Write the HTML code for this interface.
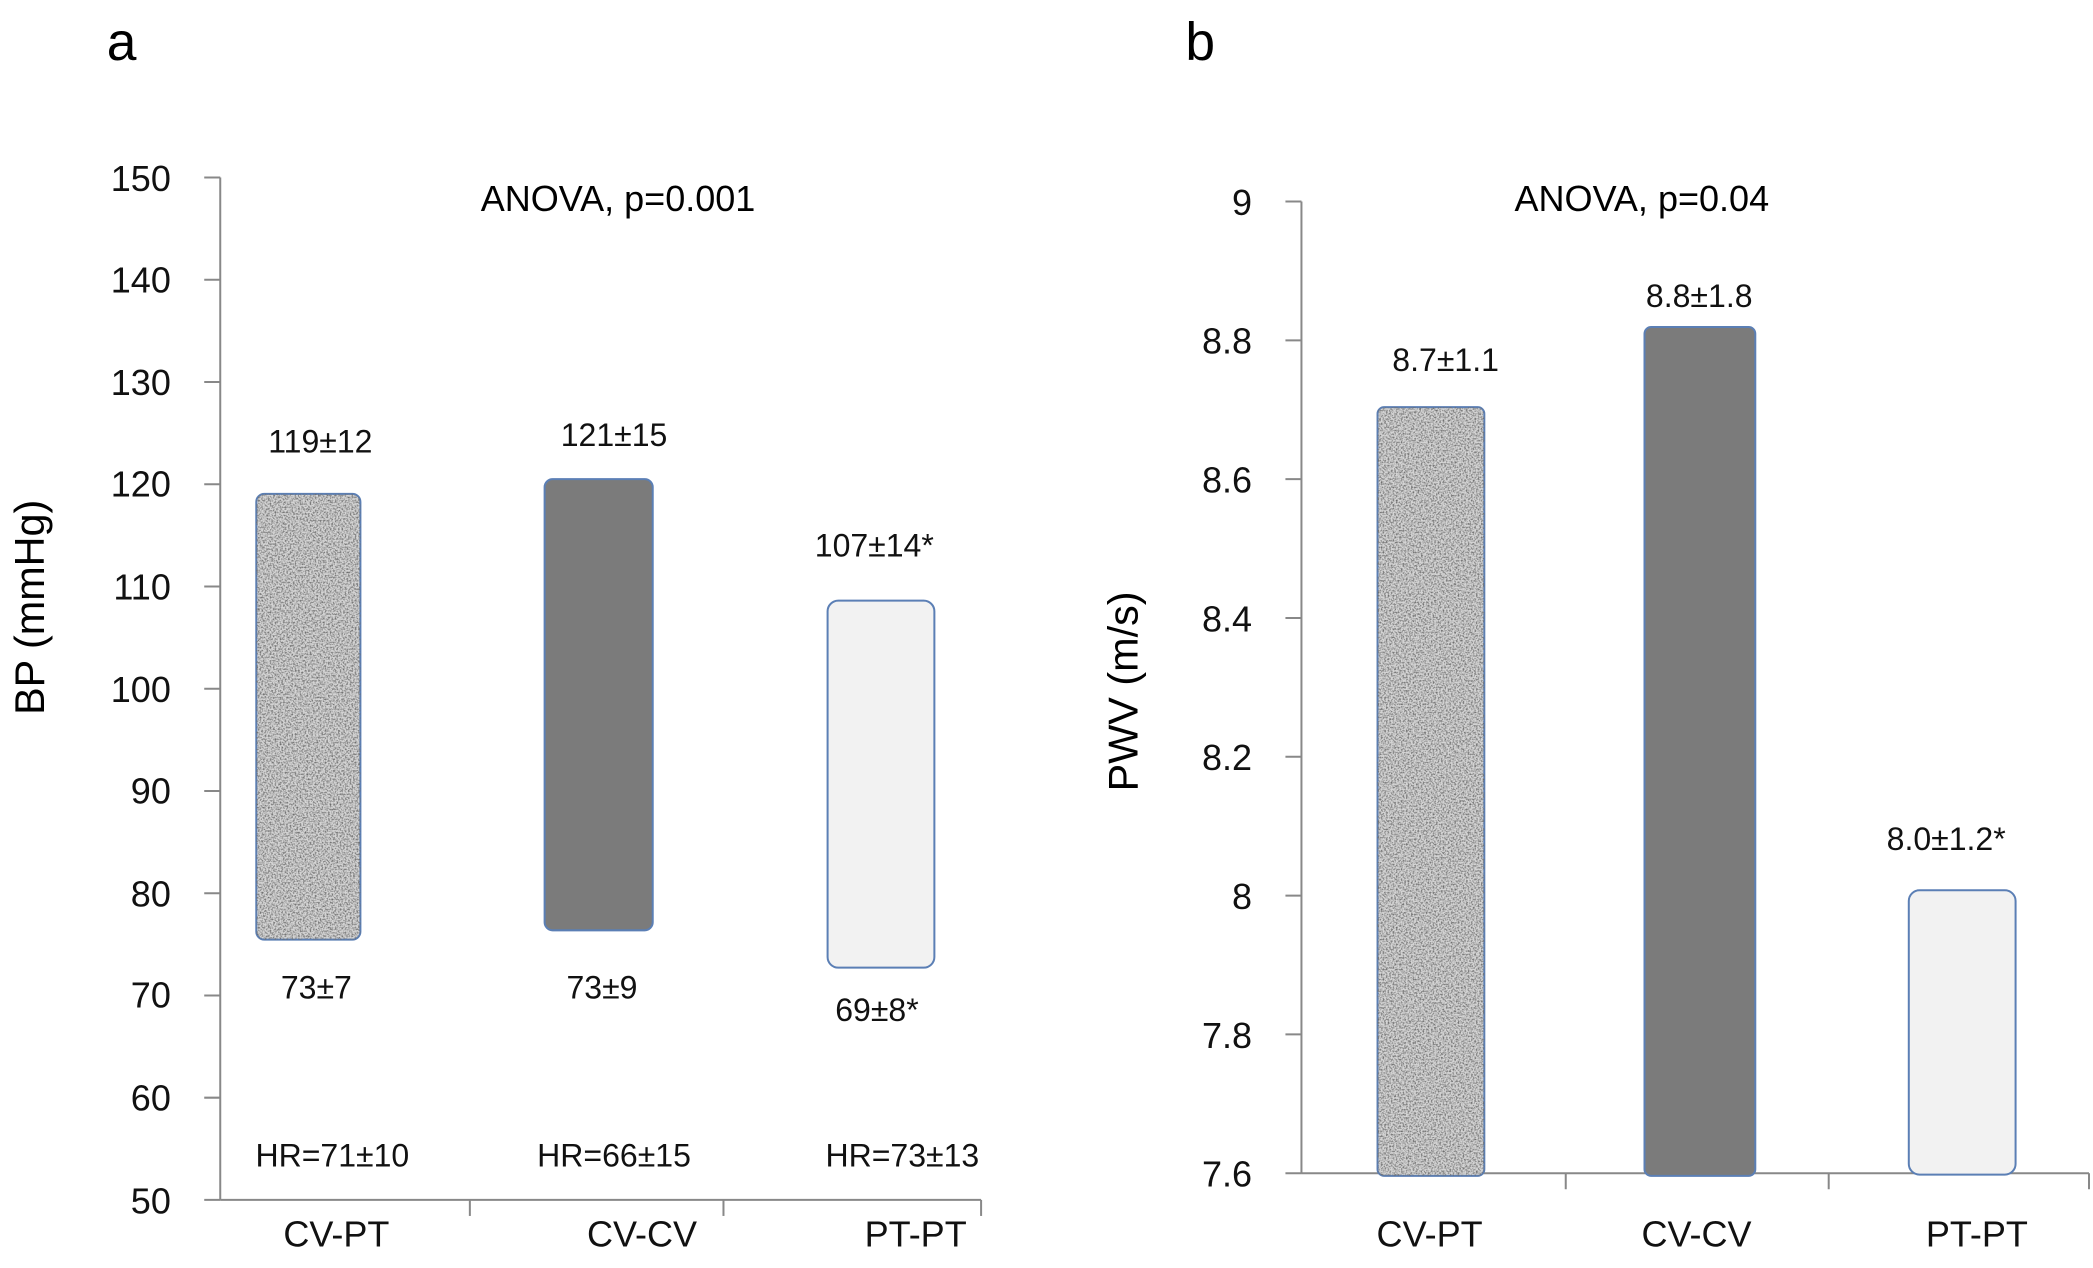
<!DOCTYPE html>
<html><head><meta charset="utf-8"><style>html,body{margin:0;padding:0;background:#fff}svg{display:block}</style></head>
<body>
<svg width="2093" height="1268" viewBox="0 0 1568 950" preserveAspectRatio="none" xmlns="http://www.w3.org/2000/svg" font-family="Liberation Sans, sans-serif">
<defs>
<filter id="noise" x="0" y="0" width="100%" height="100%">
<feTurbulence type="fractalNoise" baseFrequency="0.8" numOctaves="2" seed="3"/>
<feColorMatrix type="matrix" values="0 0 0 0 0.15  0 0 0 0 0.15  0 0 0 0 0.15  0 0 0 -2.6 1.55"/>
<feComposite in2="SourceGraphic" operator="in"/>
</filter>
</defs>
<rect width="1568" height="950" fill="#fff"/>
<text x="80" y="45" font-size="40">a</text>
<text x="888" y="45" font-size="40">b</text>
<!-- Panel a -->
<g stroke="#888" stroke-width="1.5" fill="none">
<line x1="165" y1="133" x2="165" y2="899"/>
<line x1="165" y1="899" x2="735" y2="899"/>
<line x1="153" y1="133" x2="165" y2="133"/><line x1="153" y1="209.6" x2="165" y2="209.6"/>
<line x1="153" y1="286.2" x2="165" y2="286.2"/><line x1="153" y1="362.8" x2="165" y2="362.8"/>
<line x1="153" y1="439.4" x2="165" y2="439.4"/><line x1="153" y1="516" x2="165" y2="516"/>
<line x1="153" y1="592.6" x2="165" y2="592.6"/><line x1="153" y1="669.2" x2="165" y2="669.2"/>
<line x1="153" y1="745.8" x2="165" y2="745.8"/><line x1="153" y1="822.4" x2="165" y2="822.4"/>
<line x1="153" y1="899" x2="165" y2="899"/>
<line x1="352" y1="899" x2="352" y2="911"/><line x1="542" y1="899" x2="542" y2="911"/><line x1="735" y1="899" x2="735" y2="911"/>
</g>
<g font-size="27" text-anchor="end" fill="#111">
<text x="128" y="143">150</text><text x="128" y="219">140</text><text x="128" y="296">130</text>
<text x="128" y="372">120</text><text x="128" y="449">110</text><text x="128" y="526">100</text>
<text x="128" y="602">90</text><text x="128" y="679">80</text><text x="128" y="755">70</text>
<text x="128" y="832">60</text><text x="128" y="909">50</text>
</g>
<text transform="translate(33,455) rotate(-90)" font-size="31" text-anchor="middle">BP (mmHg)</text>
<text x="463" y="158" font-size="27" text-anchor="middle">ANOVA, p=0.001</text>
<rect x="192" y="370" width="78" height="334" rx="6" fill="#d4d4d4" stroke="#5b7fb5" stroke-width="1.5"/>
<rect x="192" y="370" width="78" height="334" rx="6" fill="#000" filter="url(#noise)"/>
<rect x="408" y="359" width="81" height="338" rx="6" fill="#7b7b7b" stroke="#5b7fb5" stroke-width="1.5"/>
<rect x="620" y="450" width="80" height="275" rx="8" fill="#f2f2f2" stroke="#5b7fb5" stroke-width="1.5"/>
<g font-size="24" text-anchor="middle" fill="#111">
<text x="240" y="339">119±12</text><text x="460" y="334">121±15</text><text x="655" y="417">107±14*</text>
<text x="237" y="748">73±7</text><text x="451" y="748">73±9</text><text x="657" y="765">69±8*</text>
<text x="249" y="874">HR=71±10</text><text x="460" y="874">HR=66±15</text><text x="676" y="874">HR=73±13</text>
</g>
<g font-size="27" text-anchor="middle" fill="#111">
<text x="252" y="934">CV-PT</text><text x="481" y="934">CV-CV</text><text x="686" y="934">PT-PT</text>
</g>
<!-- Panel b -->
<g stroke="#888" stroke-width="1.5" fill="none">
<line x1="975" y1="151" x2="975" y2="879"/>
<line x1="975" y1="879" x2="1565" y2="879"/>
<line x1="963" y1="151" x2="975" y2="151"/><line x1="963" y1="255" x2="975" y2="255"/>
<line x1="963" y1="359" x2="975" y2="359"/><line x1="963" y1="463" x2="975" y2="463"/>
<line x1="963" y1="567" x2="975" y2="567"/><line x1="963" y1="671" x2="975" y2="671"/>
<line x1="963" y1="775" x2="975" y2="775"/><line x1="963" y1="879" x2="975" y2="879"/>
<line x1="1173" y1="879" x2="1173" y2="891"/><line x1="1370" y1="879" x2="1370" y2="891"/><line x1="1565" y1="879" x2="1565" y2="891"/>
</g>
<g font-size="27" text-anchor="end" fill="#111">
<text x="938" y="161">9</text><text x="938" y="265">8.8</text><text x="938" y="369">8.6</text>
<text x="938" y="473">8.4</text><text x="938" y="577">8.2</text><text x="938" y="681">8</text>
<text x="938" y="785">7.8</text><text x="938" y="889">7.6</text>
</g>
<text transform="translate(852,518) rotate(-90)" font-size="31" text-anchor="middle">PWV (m/s)</text>
<text x="1230" y="158" font-size="27" text-anchor="middle">ANOVA, p=0.04</text>
<rect x="1032" y="305" width="80" height="576" rx="5" fill="#d4d4d4" stroke="#5b7fb5" stroke-width="1.5"/>
<rect x="1032" y="305" width="80" height="576" rx="5" fill="#000" filter="url(#noise)"/>
<rect x="1232" y="245" width="83" height="636" rx="5" fill="#7b7b7b" stroke="#5b7fb5" stroke-width="1.5"/>
<rect x="1430" y="667" width="80" height="213" rx="8" fill="#f2f2f2" stroke="#5b7fb5" stroke-width="1.5"/>
<g font-size="24" text-anchor="middle" fill="#111">
<text x="1083" y="278">8.7±1.1</text><text x="1273" y="230">8.8±1.8</text><text x="1458" y="637">8.0±1.2*</text>
</g>
<g font-size="27" text-anchor="middle" fill="#111">
<text x="1071" y="934">CV-PT</text><text x="1271" y="934">CV-CV</text><text x="1481" y="934">PT-PT</text>
</g>
</svg>
</body></html>
